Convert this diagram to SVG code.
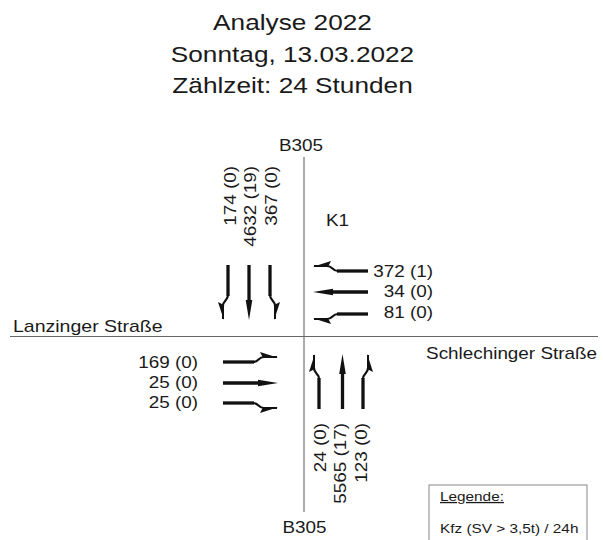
<svg xmlns="http://www.w3.org/2000/svg" xmlns:xlink="http://www.w3.org/1999/xlink" width="603" height="540" viewBox="0 0 603 540">
<style>
text{font-family:"Liberation Sans",Arial,sans-serif;fill:#1a1a1a}
.t{font-size:22.6px}
.l{font-size:16px}
.g{font-size:13px}
.road{stroke:#666;stroke-width:1.1;fill:none}
.sh{stroke:#111;fill:none;stroke-width:3.3}
.cv{stroke:#111;fill:none;stroke-width:2.2}
.tn{stroke:#111;fill:none;stroke-width:2}
.hd{fill:#111}
</style>
<defs>
<g id="st"><path class="sh" d="M0,0H38"/><path class="hd" d="M55,0L35,-3.3L35,3.3Z"/></g>
<g id="tl"><path class="sh" d="M0,0H31"/><path class="cv" d="M30,0C36,0 35,-5 41,-5"/><path class="tn" d="M40,-5H54"/><path class="hd" d="M55,-4.2L37,-10L40,-4.2Z"/></g>
</defs>
<rect width="603" height="540" fill="#fff"/>
<g id="title" text-anchor="middle">
<text class="t" transform="translate(292.5,29.5) scale(1.16,1)">Analyse 2022</text>
<text class="t" transform="translate(292.5,61.5) scale(1.16,1)">Sonntag, 13.03.2022</text>
<text class="t" transform="translate(292.5,93) scale(1.16,1)">Zählzeit: 24 Stunden</text>
</g>
<g id="roads">
<path class="road" d="M304,157V512"/>
<path class="road" d="M10,336.5H598"/>
</g>
<g id="roadnames">
<text class="l" text-anchor="middle" transform="translate(301,151) scale(1.18,1)">B305</text>
<text class="l" text-anchor="middle" transform="translate(304.5,533) scale(1.18,1)">B305</text>
<text class="l" transform="translate(13,332) scale(1.22,1)">Lanzinger Straße</text>
<text class="l" text-anchor="end" transform="translate(597,359) scale(1.18,1)">Schlechinger Straße</text>
<text class="l" transform="translate(326,226) scale(1.18,1)">K1</text>
</g>
<g id="north">
<use xlink:href="#tl" transform="translate(228,265) rotate(90) scale(1,-1)"/>
<use xlink:href="#st" transform="translate(249,265) rotate(90)"/>
<use xlink:href="#tl" transform="translate(270,265) rotate(90)"/>
<g text-anchor="end">
<text class="l" transform="translate(236,166) rotate(-90) scale(1.18,1)">174 (0)</text>
<text class="l" transform="translate(256,166) rotate(-90) scale(1.18,1)">4632 (19)</text>
<text class="l" transform="translate(276.5,166) rotate(-90) scale(1.18,1)">367 (0)</text>
</g>
</g>
<g id="east">
<use xlink:href="#tl" transform="translate(368,271) rotate(180) scale(1,-1)"/>
<use xlink:href="#st" transform="translate(368,292) rotate(180)"/>
<use xlink:href="#tl" transform="translate(368,314) rotate(180)"/>
<g text-anchor="end">
<text class="l" transform="translate(433,277) scale(1.18,1)">372 (1)</text>
<text class="l" transform="translate(433,297) scale(1.18,1)">34 (0)</text>
<text class="l" transform="translate(433,318) scale(1.18,1)">81 (0)</text>
</g>
</g>
<g id="west">
<use xlink:href="#tl" transform="translate(223,362)"/>
<use xlink:href="#st" transform="translate(223,383)"/>
<use xlink:href="#tl" transform="translate(223,403) scale(1,-1)"/>
<g text-anchor="end">
<text class="l" transform="translate(198,367.5) scale(1.18,1)">169 (0)</text>
<text class="l" transform="translate(198,388) scale(1.18,1)">25 (0)</text>
<text class="l" transform="translate(198,408) scale(1.18,1)">25 (0)</text>
</g>
</g>
<g id="south">
<use xlink:href="#tl" transform="translate(319,409) rotate(-90)"/>
<use xlink:href="#st" transform="translate(342.5,409) rotate(-90)"/>
<use xlink:href="#tl" transform="translate(363,409) rotate(-90) scale(1,-1)"/>
<g text-anchor="end">
<text class="l" transform="translate(325.5,423) rotate(-90) scale(1.18,1)">24 (0)</text>
<text class="l" transform="translate(346,423) rotate(-90) scale(1.18,1)">5565 (17)</text>
<text class="l" transform="translate(367,423) rotate(-90) scale(1.18,1)">123 (0)</text>
</g>
</g>
<g id="legend">
<rect x="429" y="485" width="158" height="70" fill="none" stroke="#888" stroke-width="1"/>
<text class="g" text-decoration="underline" transform="translate(440,501) scale(1.18,1)">Legende:</text>
<text class="g" transform="translate(440,533) scale(1.18,1)">Kfz (SV &gt; 3,5t) / 24h</text>
</g>
</svg>
